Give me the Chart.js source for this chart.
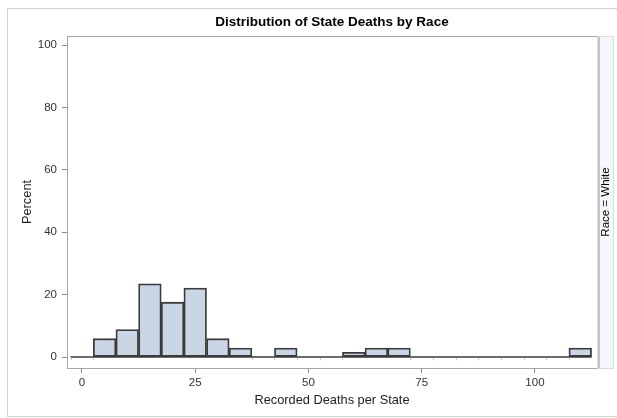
<!DOCTYPE html>
<html>
<head>
<meta charset="utf-8">
<script src="https://cdn.jsdelivr.net/npm/chart.js@4.4.1/dist/chart.umd.min.js"></script>
<style>
  html, body { margin: 0; padding: 0; background: #ffffff; }
  #wrap { position: relative; width: 617px; height: 418px; }
</style>
</head>
<body>
<div id="wrap"><canvas id="hist" width="617" height="418"></canvas></div>
<script>
// Histogram of recorded deaths per state, race = White (percent of states per bin)
const chartTitle = 'Distribution of State Deaths by Race';
const panelLabel = 'Race = White';
const xAxisTitle = 'Recorded Deaths per State';
const yAxisTitle = 'Percent';

const binWidth = 5;
const binCenters = [0, 5, 10, 15, 20, 25, 30, 35, 40, 45, 50, 55, 60, 65, 70, 75, 80, 85, 90, 95, 100, 105, 110];
const percents   = [0, 5.9, 8.8, 23.5, 17.6, 22.1, 5.9, 2.9, 0, 2.9, 0, 0, 1.5, 2.9, 2.9, 0, 0, 0, 0, 0, 0, 0, 2.9];

const xTicks = [0, 25, 50, 75, 100];
const yTicks = [0, 20, 40, 60, 80, 100];

const FONT = "'Liberation Sans', Arial, sans-serif";
Chart.defaults.font.family = FONT;
Chart.defaults.color = '#333333';

const barPoints = binCenters.map((x, i) => ({ x: x, y: percents[i] }));
const baseline = [
  { x: binCenters[0] - binWidth / 2, y: 0 },
  { x: binCenters[binCenters.length - 1] + binWidth / 2, y: 0 }
];

// Frame, side panel, title, outer border and bin-edge marks
const decorations = {
  id: 'decorations',
  beforeDraw(chart) {
    const { ctx, chartArea: a } = chart;
    ctx.save();
    // outer border
    ctx.strokeStyle = '#d4d4d4';
    ctx.lineWidth = 1;
    ctx.strokeRect(7.5, 8.5, 640, 408);
    // side panel
    ctx.fillStyle = '#f5f7fc';
    ctx.fillRect(a.right, a.top, 16, a.bottom - a.top);
    ctx.restore();
  },
  afterDraw(chart) {
    const { ctx, chartArea: a, scales } = chart;
    ctx.save();
    // bin edge marks along the baseline
    ctx.strokeStyle = '#c8c8c8';
    ctx.lineWidth = 1;
    const y0 = scales.y.getPixelForValue(0);
    binCenters.forEach((c, i) => {
      if (percents[i] > 0) return;
      [c - binWidth / 2, c + binWidth / 2].forEach(e => {
        const px = Math.round(scales.x.getPixelForValue(e)) + 0.5;
        ctx.beginPath();
        ctx.moveTo(px, y0 + 1);
        ctx.lineTo(px, y0 + 3);
        ctx.stroke();
      });
    });
    // plot frame
    ctx.strokeStyle = '#a6a6a6';
    ctx.lineWidth = 1;
    ctx.strokeRect(Math.round(a.left) + 0.5, Math.round(a.top) + 0.5,
                   Math.round(a.right - a.left), Math.round(a.bottom - a.top));
    // side panel borders
    ctx.strokeStyle = '#c4c4c4';
    ctx.lineWidth = 2;
    ctx.beginPath();
    ctx.moveTo(a.right + 2, a.top);
    ctx.lineTo(a.right + 2, a.bottom);
    ctx.stroke();
    ctx.strokeStyle = '#dcdcdc';
    ctx.lineWidth = 1;
    ctx.strokeRect(a.right + 0.5, a.top + 0.5, 16, a.bottom - a.top);
    // panel label
    ctx.fillStyle = '#000000';
    ctx.font = '11.5px ' + FONT;
    ctx.textAlign = 'center';
    ctx.textBaseline = 'middle';
    ctx.translate(a.right + 9, (a.top + a.bottom) / 2);
    ctx.rotate(-Math.PI / 2);
    ctx.fillText(panelLabel, 0, 0);
    ctx.restore();
    // chart title
    ctx.save();
    ctx.fillStyle = '#000000';
    ctx.font = 'bold 13.5px ' + FONT;
    ctx.textAlign = 'center';
    ctx.textBaseline = 'middle';
    ctx.fillText(chartTitle, (a.left + a.right) / 2, 22);
    ctx.restore();
  }
};

new Chart(document.getElementById('hist'), {
  type: 'bar',
  data: {
    datasets: [
      {
        type: 'bar',
        data: barPoints,
        backgroundColor: '#cad5e5',
        borderColor: '#3b3b3b',
        borderWidth: 1.8,
        borderSkipped: false,
        barPercentage: 1,
        categoryPercentage: 1,
        order: 1
      },
      {
        type: 'line',
        data: baseline,
        borderColor: '#3b3b3b',
        borderWidth: 1.5,
        pointRadius: 0,
        fill: false,
        order: 2
      }
    ]
  },
  options: {
    responsive: false,
    animation: false,
    events: [],
    layout: { padding: { left: 0, top: 36, right: 20, bottom: 0 } },
    plugins: {
      legend: { display: false },
      tooltip: { enabled: false },
      title: { display: false }
    },
    scales: {
      x: {
        type: 'linear',
        offset: false,
        min: -3.3,
        max: 113.7,
        afterBuildTicks(scale) { scale.ticks = xTicks.map(v => ({ value: v })); },
        afterFit(scale) { scale.height = 50; },
        grid: {
          offset: false,
          drawOnChartArea: false,
          drawTicks: true,
          tickLength: 5,
          color: '#8c8c8c'
        },
        border: { display: false },
        ticks: { font: { size: 11.5 }, color: '#333333', padding: 3, maxRotation: 0 },
        title: {
          display: true,
          text: xAxisTitle,
          font: { size: 12.8 },
          color: '#222222',
          padding: { top: 4, bottom: 10 }
        }
      },
      y: {
        type: 'linear',
        min: -3.5,
        max: 102.9,
        afterBuildTicks(scale) { scale.ticks = yTicks.map(v => ({ value: v })); },
        afterFit(scale) { scale.width = 67; },
        grid: {
          drawOnChartArea: false,
          drawTicks: true,
          tickLength: 5,
          color: '#8c8c8c'
        },
        border: { display: false },
        ticks: { font: { size: 11.5 }, color: '#333333', padding: 5 },
        title: {
          display: true,
          text: yAxisTitle,
          font: { size: 12.8 },
          color: '#222222',
          padding: { top: 20, bottom: 0 }
        }
      }
    }
  },
  plugins: [decorations]
});
</script>
</body>
</html>
